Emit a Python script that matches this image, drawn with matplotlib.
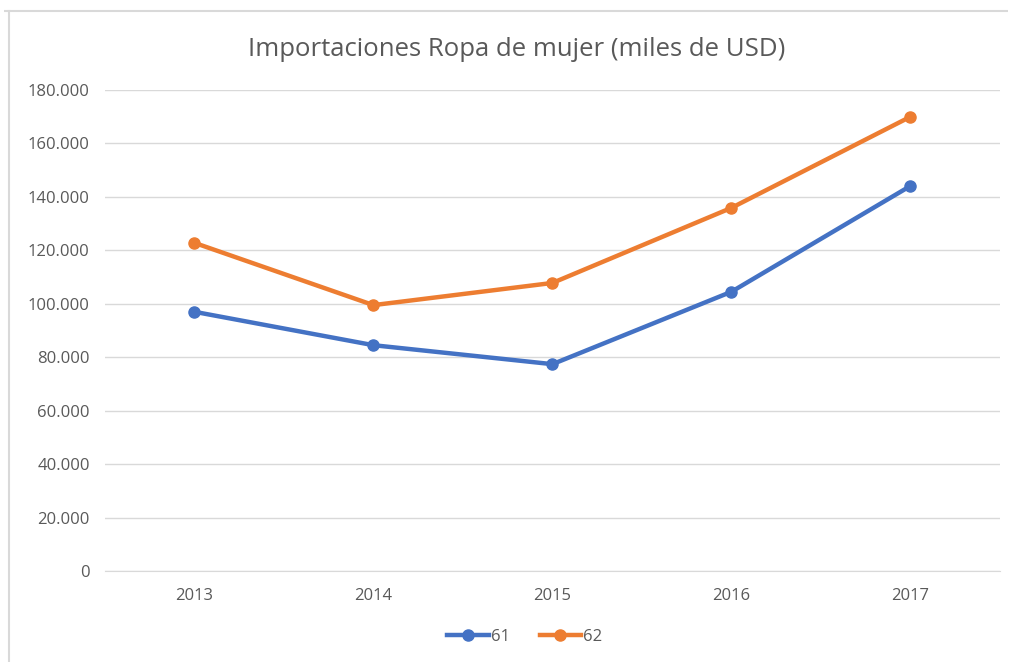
import matplotlib
matplotlib.use("Agg")
import matplotlib.pyplot as plt
from matplotlib.ticker import FuncFormatter
from matplotlib.lines import Line2D

years = ["2013", "2014", "2015", "2016", "2017"]
s61 = [97000, 84500, 77400, 104500, 144100]
s62 = [122800, 99500, 107800, 135900, 170000]
yticks = [0, 20000, 40000, 60000, 80000, 100000, 120000, 140000, 160000, 180000]

plt.rcParams['font.family'] = ['Open Sans', 'DejaVu Sans']

fig = plt.figure(figsize=(10.09, 6.62), dpi=100)
ax = fig.add_axes([0.104, 0.1375, 0.887, 0.7265])

x = list(range(len(years)))
blue = "#4472c4"
orange = "#ed7d31"
ax.plot(x, s61, color=blue, lw=3.2, marker="o", ms=8, solid_capstyle="round", zorder=3)
ax.plot(x, s62, color=orange, lw=3.2, marker="o", ms=8, solid_capstyle="round", zorder=3)

ax.set_xlim(-0.5, 4.5)
ax.set_ylim(0, 180000)
ax.set_yticks(yticks)
ax.yaxis.set_major_formatter(FuncFormatter(lambda v, p: "0" if v == 0 else f"{int(v):,}".replace(",", ".")))
ax.set_xticks(x)
ax.set_xticklabels(years)
ax.grid(axis="y", color="#d9d9d9", lw=1)
ax.set_axisbelow(True)
for s in ["top", "right", "left"]:
    ax.spines[s].set_visible(False)
ax.spines["bottom"].set_color("#d9d9d9")
ax.tick_params(axis="both", length=0, colors="#595959", labelsize=12)
ax.tick_params(axis="y", pad=11)
ax.tick_params(axis="x", pad=12)

fig.text(0.512, 0.925, "Importaciones Ropa de mujer (miles de USD)", ha="center", va="center",
         fontsize=18.5, color="#595959")

handles = [Line2D([], [], color=blue, lw=3.2, marker="o", ms=8),
           Line2D([], [], color=orange, lw=3.2, marker="o", ms=8)]
fig.legend(handles, ["61", "62"], loc="center", bbox_to_anchor=(0.52, 0.038), ncol=2, frameon=False,
           fontsize=12, labelcolor="#595959", handlelength=2.5, handletextpad=0.1, columnspacing=1.8)

# outer border lines
fig.add_artist(Line2D([0.009, 0.009], [0, 0.983], transform=fig.transFigure, color="#d9d9d9", lw=1.5))
fig.add_artist(Line2D([0.004, 0.999], [0.983, 0.983], transform=fig.transFigure, color="#d9d9d9", lw=1.5,
                      solid_capstyle="butt"))

fig.savefig("out.png", dpi=100, facecolor="white")
